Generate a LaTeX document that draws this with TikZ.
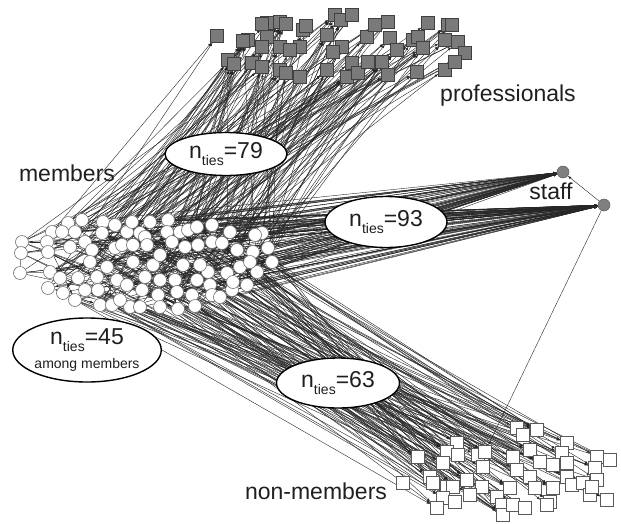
\documentclass[tikz,border=0pt]{standalone}
\usepackage{fontspec}
\setmainfont{Liberation Sans}
\usetikzlibrary{arrows.meta,shapes.geometric}
\pgfdeclarelayer{bg}
\pgfsetlayers{bg,main}
\begin{document}
\begin{tikzpicture}[x=1pt,y=-1pt,
  mem/.style={circle,draw=black!55,fill=white,line width=0.6pt,minimum size=13pt,inner sep=0pt},
  pro/.style={rectangle,draw=black!75,fill=black!52,line width=0.5pt,minimum size=13pt,inner sep=0pt},
  non/.style={rectangle,draw=black!65,fill=white,line width=0.5pt,minimum size=13pt,inner sep=0pt},
  stf/.style={circle,draw=black!65,fill=black!50,line width=0.5pt,minimum size=12pt,inner sep=0pt},
  tie/.style={draw=black!85,line width=0.4pt,-{Latex[length=3.5pt,width=2.6pt]}},
  plain/.style={draw=black!70,line width=0.5pt},
  lbl/.style={font=\fontsize{23}{27}\selectfont,text=black!88,inner sep=0pt},
  cnt/.style={ellipse,draw=black,line width=1.4pt,fill=white,inner sep=0pt,
    font=\fontsize{23}{27}\selectfont,text=black!88,align=center}]
\newcommand{\nties}[1]{n\raisebox{-0.32em}{\fontsize{14}{14}\selectfont ties}=#1}
\useasboundingbox (0,0) rectangle (621,523);
% members
\foreach \x/\y [count=\i] in {22/242,21/253,20/273,52/232,47/242,68/223,62/232,75/232,82/220,70/247,85/242,92/250,103/222,102/233,115/225,127/232,132/222,140/233,145/237,115/248,122/245,133/245,147/245,168/220,167/232,172/242,180/232,188/230,197/227,212/225,185/247,198/245,212/242,222/243,237/250,253/252,262/233,268/248,255/235,48/252,50/272,48/288,60/278,63/293,78/278,85/290,97/277,98/290,100/305,112/305,117/280,127/285,130/307,140/307,142/290,145/277,158/295,160/280,175/280,177/292,178/309,192/295,197/280,208/272,210/285,212/295,227/273,232/290,233/282,247/285,257/272,220/297,107/267,90/262,133/262,153/265,183/265,240/267,200/265,230/232,160/255,120/300,195/306,250/262,75/300,150/222,272/262,160/307}
  {\node[mem] (m\i) at (\x,\y) {}; \xdef\nm{\i}}
% professionals
\foreach \x/\y [count=\i] in {217/36,228/60,234/64,248/40,243/41,267/23,280/22,286/24,267/37,262/47,280/47,252/63,262/67,280/70,286/73,300/77,303/30,300/47,290/50,327/35,335/15,341/20,352/15,342/47,333/52,327/70,347/77,352/63,358/73,367/37,375/25,388/22,390/38,397/50,368/62,382/62,388/75,413/40,418/37,423/48,428/23,417/72,445/40,448/25,445/70,452/25,458/42,465/53,455/62,306/26,262/24}
  {\node[pro] (p\i) at (\x,\y) {}; \xdef\np{\i}}
% non-members
\foreach \x/\y [count=\i] in {517/428,523/435,537/430,530/450,513/457,567/443,562/453,597/457,610/460,595/468,567/463,553/465,540/462,517/470,530/477,457/443,447/452,458/455,443/463,418/457,478/455,485/452,483/467,430/477,433/483,447/487,453/487,443/498,455/502,437/508,403/483,482/487,497/497,502/505,503/515,513/505,525/508,510/488,535/488,550/502,553/488,567/477,572/485,583/483,590/495,607/500,597/480,592/487,547/505,470/495,467/480}
  {\node[non] (n\i) at (\x,\y) {}; \xdef\nn{\i}}
% staff
\node[stf] (s1) at (563,172) {};
\node[stf] (s2) at (604,205) {};
% ties
\pgfmathsetseed{2718}
\begin{pgfonlayer}{bg}
\foreach \k in {1,...,170}{
  \pgfmathrandominteger{\ma}{1}{\nm}
  \pgfmathrandominteger{\pb}{1}{\np}
  \draw[tie] (m\ma) -- (p\pb);}
\foreach \k in {1,...,60}{
  \pgfmathrandominteger{\ma}{1}{\nm}
  \draw[tie] (m\ma) -- (s1);}
\foreach \k in {1,...,90}{
  \pgfmathrandominteger{\ma}{1}{\nm}
  \draw[tie] (m\ma) -- (s2);}
\foreach \k in {1,...,150}{
  \pgfmathrandominteger{\ma}{1}{\nm}
  \pgfmathrandominteger{\pb}{1}{\nn}
  \draw[tie] (m\ma) -- (n\pb);}
\foreach \k in {1,...,60}{
  \pgfmathrandominteger{\ma}{1}{\nm}
  \pgfmathrandominteger{\pb}{1}{\nm}
  \draw[tie] (m\ma) -- (m\pb);}
\draw[plain] (m2) -- (m3);
\draw[plain] (m3) -- (m41);
\draw[tie] (m5) -- (m1);
\draw[tie] (s2) -- (s1);
\draw[tie] (s2) -- (n22);
\end{pgfonlayer}
% labels
\node[lbl] (lm) at (67,173) {members};
\node[lbl] (lp) at (508,96) {professionals};
\node[lbl] (ls) at (551,191) {staff};
\node[lbl] (ln) at (316,491) {non-members};
\node[cnt,minimum width=122pt,minimum height=43pt] (e79) at (226,154) {\nties{79}};
\node[cnt,minimum width=122pt,minimum height=51pt] (e93) at (386,222) {\nties{93}};
\node[cnt,minimum width=123pt,minimum height=50pt] (e63) at (338,383) {\nties{63}};
\node[cnt,minimum width=147pt,minimum height=64pt] (e45) at (87,350) {\nties{45}\\[-3pt]{\fontsize{14}{15}\selectfont among members}};
\end{tikzpicture}
\end{document}
